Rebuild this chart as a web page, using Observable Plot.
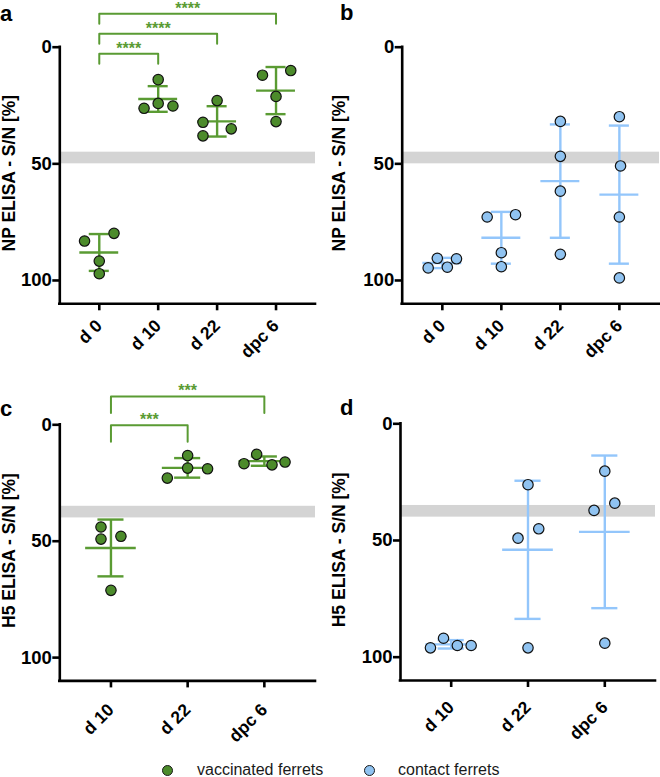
<!DOCTYPE html>
<html><head><meta charset="utf-8">
<script src="https://cdn.jsdelivr.net/npm/d3@7"></script>
<script src="https://cdn.jsdelivr.net/npm/@observablehq/plot@0.6"></script>
<style>
body{margin:0;background:#fff;}
#fig{position:relative;width:660px;height:777px;font-family:"Liberation Sans",Arial,sans-serif;overflow:hidden;}
.panel{position:absolute;}
.plabel{position:absolute;font-weight:bold;font-size:22px;line-height:1;}
.lgtext{position:absolute;font-size:16px;line-height:1;color:#1a1a1a;white-space:nowrap;}
.lgdot{position:absolute;width:9px;height:9px;border-radius:50%;border:1.2px solid #1a1a1a;}
</style></head>
<body><div id="fig"></div>
<script>
// ---------- data ----------
const npCats = ["d 0", "d 10", "d 22", "dpc 6"];
const h5Cats = ["d 10", "d 22", "dpc 6"];

// a: NP ELISA, vaccinated ferrets (S/N %)
const npVaccValues = [[83.1, 79.8, 91.7, 97.1], [13.9, 26.2, 24.1, 25.2], [22.9, 32.2, 35.0, 38.0], [12.0, 10.0, 21.1, 31.9]];
const npVaccJitter = [[-0.25, 0.25, 0, 0], [0, -0.24, 0, 0.25], [0, -0.24, 0.24, -0.24], [-0.23, 0.25, 0, 0]];
const npVaccMean = [88.0, 22.2, 31.8, 18.6];
const npVaccSD = [7.9, 5.5, 6.5, 10.1];

// b: NP ELISA, contact ferrets
const npContValues = [[94.6, 90.5, 94.3, 90.7], [72.8, 71.8, 88.1, 94.1], [31.8, 46.8, 61.7, 88.8], [29.8, 50.9, 72.8, 98.9]];
const npContJitter = [[-0.24, -0.085, 0.085, 0.24], [-0.24, 0.24, 0, 0], [0, 0, 0, 0], [0, 0.02, 0, 0]];
const npContMean = [92.5, 81.7, 57.4, 63.2];
const npContSD = [2.2, 11.1, 24.3, 29.6];

// c: H5 ELISA, vaccinated ferrets
const h5VaccValues = [[43.9, 49.1, 47.9, 71.1], [13.2, 18.6, 18.9, 22.9], [12.7, 16.7, 17.2, 16.0]];
const h5VaccJitter = [[-0.13, -0.13, 0.13, 0], [0, 0, 0.26, -0.265], [-0.1, -0.265, 0.1, 0.27]];
const h5VaccMean = [52.9, 18.5, 15.6];
const h5VaccSD = [12.2, 4.2, 2.0];

// d: H5 ELISA, contact ferrets
const h5ContValues = [[96.0, 91.9, 95.0, 95.0], [26.1, 49.0, 45.0, 96.0], [20.3, 37.1, 34.0, 94.0]];
const h5ContJitter = [[-0.27, -0.1, 0.08, 0.26], [0, -0.13, 0.14, 0], [0, -0.14, 0.13, 0]];
const h5ContMean = [94.5, 54.0, 46.3];
const h5ContSD = [1.8, 29.6, 32.7];

// cut-off (doubtful) ranges
const npBand = [45, 50];
const h5Band = [35, 40];

// significance comparisons
const npSig = [["d 0", "d 10", "****"], ["d 0", "d 22", "****"], ["d 0", "dpc 6", "****"]];
const h5Sig = [["d 10", "d 22", "***"], ["d 10", "dpc 6", "***"]];

const yTicks = [0, 50, 100];
const legendItems = ["vaccinated ferrets", "contact ferrets"];

// ---------- styles ----------
const GREEN_FILL = "#4c8b2b", GREEN_LINE = "#5a9b33";
const BLUE_FILL = "#90c3f1", BLUE_LINE = "#93c6fb";
const FONT = "'Liberation Sans', Arial, sans-serif";

function panel(o) {
  const {cats, values, jitter, means, sds, band, sig, ylabel, fill, line, geo, br} = o;
  const n = cats.length;
  const x0 = -geo.pad, x1 = n - 1 + geo.pad;
  const ppu = (geo.h - geo.mT - geo.mB) / 110;
  const pts = [];
  values.forEach((vals, i) => vals.forEach((v, j) => pts.push({x: i + jitter[i][j], y: v})));
  const stats = means.map((m, i) => ({i, m, lo: m - sds[i], hi: m + sds[i]}));
  const idx = c => cats.indexOf(c);
  const marks = [
    Plot.rect([band], {x1: () => x0, x2: () => x1, y1: d => d[0], y2: d => d[1], fill: "#d4d4d4"}),
    Plot.ruleX(stats, {x: "i", y1: "lo", y2: "hi", stroke: line, strokeWidth: 2.4}),
    Plot.ruleY(stats, {x1: d => d.i - 0.33, x2: d => d.i + 0.33, y: "m", stroke: line, strokeWidth: 2.4}),
    Plot.ruleY(stats, {x1: d => d.i - 0.17, x2: d => d.i + 0.17, y: "lo", stroke: line, strokeWidth: 2.4}),
    Plot.ruleY(stats, {x1: d => d.i - 0.17, x2: d => d.i + 0.17, y: "hi", stroke: line, strokeWidth: 2.4}),
    Plot.dot(pts, {x: "x", y: "y", r: 5.2, fill, stroke: "#111", strokeWidth: 1.2}),
    Plot.ruleX([x0], {x: d => d, y1: () => 0, y2: () => 110, stroke: "#000", strokeWidth: 2.6, strokeLinecap: "square"}),
    Plot.ruleY([110], {y: d => d, x1: () => x0, x2: () => x1, stroke: "#000", strokeWidth: 2.6, strokeLinecap: "square"}),
    Plot.axisY({ticks: yTicks, tickSize: 7, tickPadding: 1, label: null, strokeWidth: 2.6, fontSize: 18.5, fontWeight: "bold", fill: "#000"}),
    Plot.axisX({ticks: d3.range(n), tickFormat: i => cats[i], tickRotate: -45, tickSize: 7, tickPadding: geo.xpad, label: null, strokeWidth: 2.6, fontSize: 17.5, fontWeight: "bold", fill: "#000"}),
    Plot.text([ylabel], {x: () => x0, y: () => 54, text: d => d, rotate: -90, dx: -(geo.mL - 9), fontSize: 17.5, fontWeight: "bold", textAnchor: "middle", lineAnchor: "middle", fill: "#000"})
  ];
  if (sig) {
    sig.forEach((s, k) => {
      const fi = idx(s[0]), ti = idx(s[1]);
      const yL = br.levels[k] / ppu, yE = (br.levels[k] + br.drop) / ppu;
      marks.push(Plot.line([[fi, yE], [fi, yL], [ti, yL], [ti, yE]], {x: d => d[0], y: d => d[1], stroke: line, strokeWidth: 2, curve: "linear"}));
      marks.push(Plot.text([s[2]], {x: () => (fi + ti) / 2, y: () => yL - br.star / ppu, text: d => d, fill: line, fontSize: 16, fontWeight: "bold", lineAnchor: "middle"}));
    });
  }
  const svg = Plot.plot({
    width: geo.w, height: geo.h,
    marginLeft: geo.mL, marginRight: geo.mR, marginTop: geo.mT, marginBottom: geo.mB,
    x: {domain: [x0, x1], axis: null},
    y: {domain: [0, 110], reverse: true, axis: null},
    style: {fontFamily: FONT, fontSize: "17px", overflow: "visible", background: "transparent", color: "#000"},
    marks
  });
  svg.classList.add("panel");
  svg.style.left = geo.left + "px";
  svg.style.top = geo.top + "px";
  svg.style.position = "absolute";
  return svg;
}

const fig = document.getElementById("fig");

fig.appendChild(panel({cats: npCats, values: npVaccValues, jitter: npVaccJitter, means: npVaccMean, sds: npVaccSD,
  band: npBand, sig: npSig, ylabel: "NP ELISA - S/N [%]", fill: GREEN_FILL, line: GREEN_LINE,
  geo: {left: 0, top: 0, w: 330, h: 370, mL: 59.3, mR: 15, mT: 46.7, mB: 66.7, pad: 0.67, xpad: 12},
  br: {levels: [6.5, -13.4, -33.4], drop: 10, star: 4.5}}));

fig.appendChild(panel({cats: npCats, values: npContValues, jitter: npContJitter, means: npContMean, sds: npContSD,
  band: npBand, sig: null, ylabel: "NP ELISA - S/N [%]", fill: BLUE_FILL, line: BLUE_LINE,
  geo: {left: 330, top: 0, w: 330, h: 370, mL: 71.7, mR: 1, mT: 46.7, mB: 66.7, pad: 0.68, xpad: 12}}));

fig.appendChild(panel({cats: h5Cats, values: h5VaccValues, jitter: h5VaccJitter, means: h5VaccMean, sds: h5VaccSD,
  band: h5Band, sig: h5Sig, ylabel: "H5 ELISA - S/N [%]", fill: GREEN_FILL, line: GREEN_LINE,
  geo: {left: 0, top: 380, w: 330, h: 370, mL: 59.3, mR: 15, mT: 44.3, mB: 69.6, pad: 0.667, xpad: 19},
  br: {levels: [0.5, -28.3], drop: 16.5, star: 5.8}}));

fig.appendChild(panel({cats: h5Cats, values: h5ContValues, jitter: h5ContJitter, means: h5ContMean, sds: h5ContSD,
  band: h5Band, sig: null, ylabel: "H5 ELISA - S/N [%]", fill: BLUE_FILL, line: BLUE_LINE,
  geo: {left: 330, top: 380, w: 330, h: 370, mL: 70, mR: 5, mT: 43.3, mB: 70, pad: 0.66, xpad: 17}}));

// panel letters
[["a", 0, 3], ["b", 340, 2], ["c", 0, 398], ["d", 340, 397]].forEach(([t, l, tp]) => {
  const d = document.createElement("div");
  d.className = "plabel"; d.textContent = t; d.style.left = l + "px"; d.style.top = tp + "px";
  fig.appendChild(d);
});

// legend
[[legendItems[0], GREEN_FILL, 162, 197], [legendItems[1], BLUE_FILL, 363.5, 398]].forEach(([t, c, dl, tl]) => {
  const dot = document.createElement("div");
  dot.className = "lgdot"; dot.style.background = c; dot.style.left = dl + "px"; dot.style.top = "765px";
  fig.appendChild(dot);
  const tx = document.createElement("div");
  tx.className = "lgtext"; tx.textContent = t; tx.style.left = tl + "px"; tx.style.top = "762px";
  fig.appendChild(tx);
});
</script>
</body></html>
